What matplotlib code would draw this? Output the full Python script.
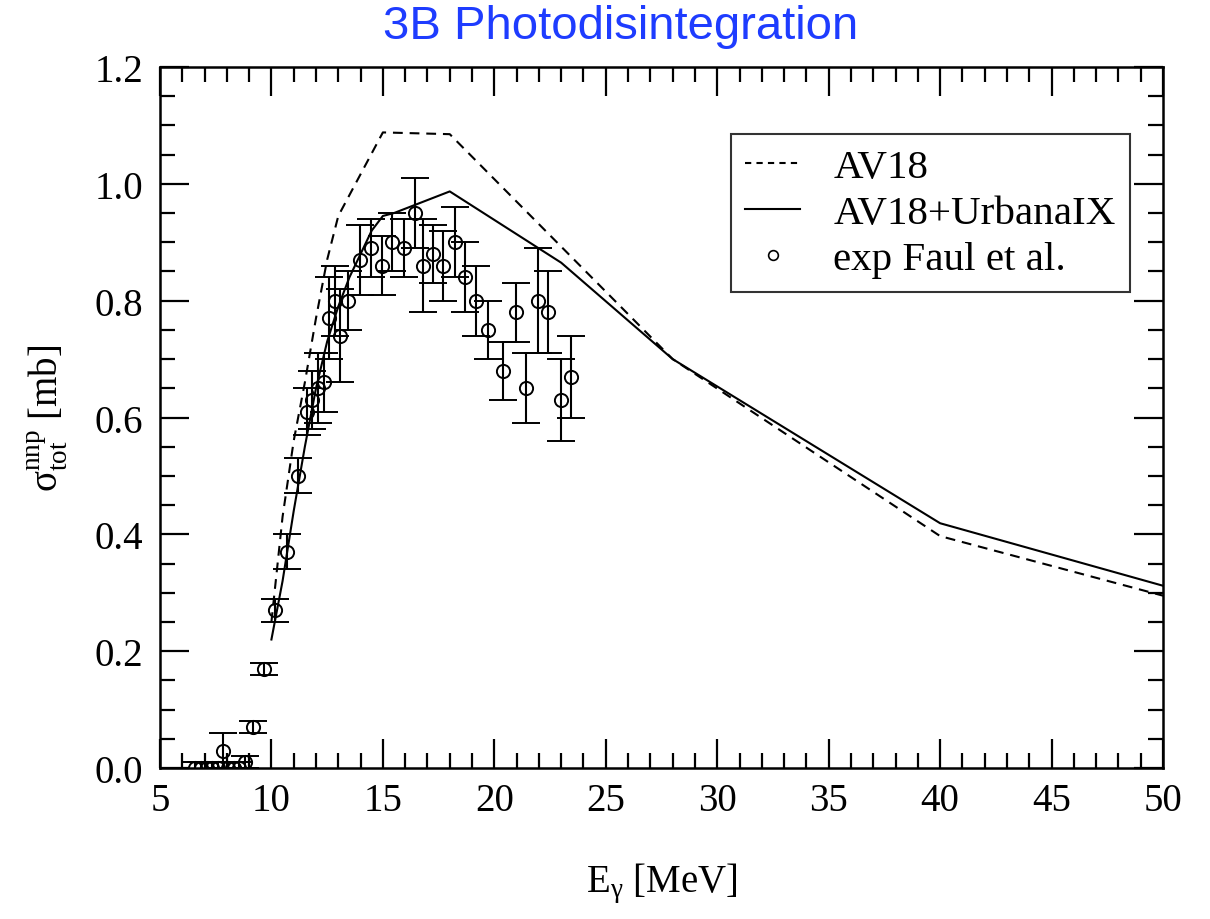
import matplotlib
matplotlib.use("Agg")
import matplotlib.pyplot as plt
from matplotlib.lines import Line2D
from matplotlib.ticker import MultipleLocator

plt.rcParams["font.family"] = ["Liberation Serif", "DejaVu Serif"]
plt.rcParams["mathtext.fontset"] = "custom"
plt.rcParams["mathtext.rm"] = "Liberation Serif"
plt.rcParams["mathtext.it"] = "Liberation Serif:italic"

# theory curves
e_av18 = [10, 10.5, 11, 11.5, 12, 12.5, 13, 15, 18, 28, 40, 50]
sig_av18 = [0.25, 0.43, 0.56, 0.66, 0.77, 0.87, 0.945, 1.088, 1.085, 0.70, 0.397, 0.295]

e_uix = [10, 10.5, 11, 11.5, 12, 12.5, 13, 13.5, 14, 14.5, 15, 15.5, 18, 23, 28, 40, 50]
sig_uix = [0.22, 0.32, 0.44, 0.55, 0.65, 0.73, 0.79, 0.84, 0.88, 0.92, 0.945, 0.95,
           0.987, 0.865, 0.70, 0.419, 0.312]

# experiment (Faul et al.)
e_exp = [6.55, 6.85, 7.1, 7.35, 7.6, 7.81, 8.05, 8.3, 8.55, 8.8, 9.19, 9.67, 10.16,
         10.68, 11.21, 11.58, 11.81, 12.10, 12.37, 12.60, 12.85, 13.08, 13.45, 13.97,
         14.45, 14.95, 15.42, 15.95, 16.44, 16.81, 17.23, 17.68, 18.23, 18.68, 19.18,
         19.73, 20.40, 20.96, 21.41, 21.97, 22.42, 22.99, 23.45]
sig_exp = [0, 0, 0, 0, 0, 0.03, 0, 0, 0, 0.01, 0.07, 0.17, 0.27, 0.37, 0.50, 0.61,
           0.63, 0.65, 0.66, 0.77, 0.80, 0.74, 0.80, 0.87, 0.89, 0.86, 0.90, 0.89,
           0.95, 0.86, 0.88, 0.86, 0.90, 0.84, 0.80, 0.75, 0.68, 0.78, 0.65, 0.80,
           0.78, 0.63, 0.67]
err_exp = [0.01, 0.01, 0.01, 0.01, 0.01, 0.03, 0.01, 0.01, 0.01, 0.01, 0.01, 0.01,
           0.02, 0.03, 0.03, 0.04, 0.05, 0.06, 0.05, 0.07, 0.06, 0.08, 0.05, 0.06,
           0.05, 0.05, 0.05, 0.05, 0.06, 0.08, 0.05, 0.06, 0.06, 0.06, 0.06, 0.05,
           0.05, 0.05, 0.06, 0.09, 0.07, 0.07, 0.07]

fig = plt.figure(figsize=(12.1, 9.2), dpi=100)
ax = fig.add_axes([0.1322, 0.1641, 0.8290, 0.7620])

ax.plot(e_av18, sig_av18, color="black", lw=1.5, linestyle=(0, (4.7, 3.3)))
ax.plot(e_uix, sig_uix, color="black", lw=1.5)
ax.errorbar(e_exp, sig_exp, yerr=err_exp, fmt="o", mfc="none", mec="black",
            mew=1.4, ms=9.5, ecolor="black", elinewidth=1.5, capsize=10,
            capthick=1.5)

ax.set_xlim(5, 50)
ax.set_ylim(0, 1.2)
ax.xaxis.set_major_locator(MultipleLocator(5))
ax.xaxis.set_minor_locator(MultipleLocator(1))
ax.yaxis.set_major_locator(MultipleLocator(0.2))
ax.yaxis.set_minor_locator(MultipleLocator(0.05))
ax.yaxis.set_major_formatter(plt.FuncFormatter(lambda v, p: "%.1f" % v))
ax.tick_params(which="both", direction="in", top=True, right=True, width=1.6)
ax.tick_params(which="major", length=21, labelsize=28)
ax.tick_params(which="minor", length=11)
ax.tick_params(axis="y", which="major", pad=12)
ax.tick_params(axis="x", which="major", pad=10)
for s in ax.spines.values():
    s.set_linewidth(1.8)

ax.set_xlabel("E$_\\mathrm{γ}$ [MeV]", fontsize=28, labelpad=30)
ax.set_ylabel("σ$_\\mathrm{tot}^\\mathrm{nnp}$ [mb]", fontsize=28, labelpad=18)

fig.text(0.513, 0.971, "3B Photodisintegration", color="#1e3cff", fontsize=34,
         family="Liberation Sans", ha="center", va="center")

handles = [
    Line2D([], [], color="black", lw=1.5, linestyle=(0, (3, 2.5))),
    Line2D([], [], color="black", lw=1.5),
    Line2D([], [], color="black", marker="o", mfc="none", ms=7, mew=1.2, ls="none"),
]
labels = ["AV18", "AV18+UrbanaIX", "exp Faul et al."]
leg = ax.legend(handles, labels, loc="upper right", bbox_to_anchor=(0.967, 0.904),
                borderaxespad=0, fontsize=29.5, frameon=True, fancybox=False,
                handlelength=1.35, handletextpad=0.8, labelspacing=0.2,
                borderpad=0.35)
leg.get_frame().set_edgecolor("black")
leg.get_frame().set_linewidth(1.5)

fig.savefig("out.png", dpi=100)
